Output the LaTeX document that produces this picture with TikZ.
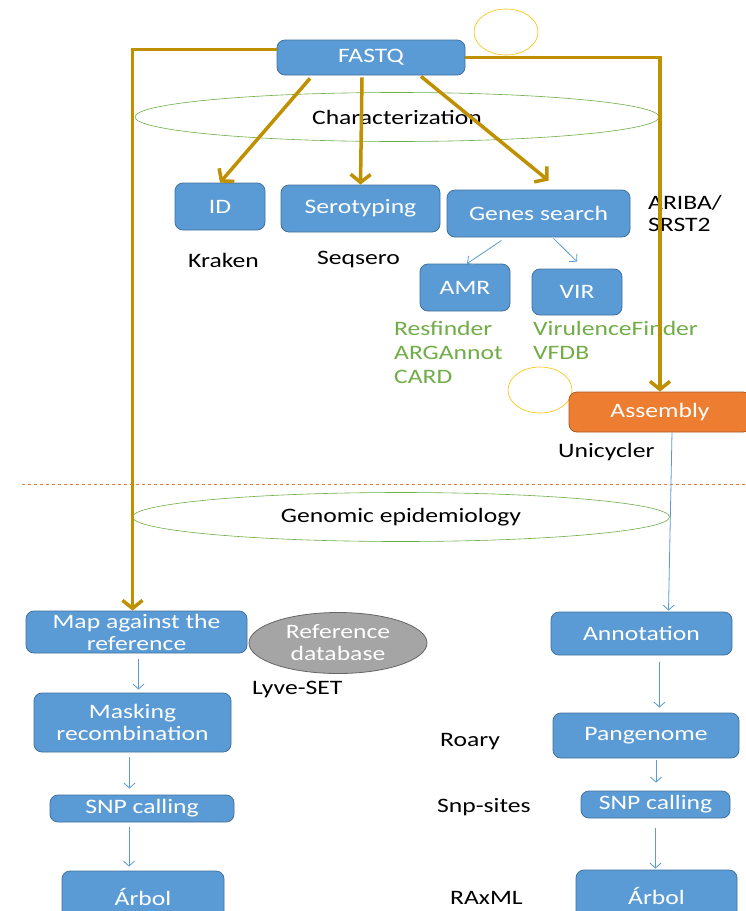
\documentclass[tikz,border=0pt]{standalone}
\usepackage{fontspec}
\setmainfont[FakeStretch=1.25]{Carlito}
\usepackage{tikz}
\usetikzlibrary{shapes.geometric,arrows.meta}
\definecolor{boxblue}{HTML}{5B9BD5}
\definecolor{boxedge}{HTML}{41719C}
\definecolor{gold}{HTML}{BF9000}
\definecolor{asmorange}{HTML}{ED7D31}
\definecolor{asmedge}{HTML}{AE5A21}
\definecolor{toolgreen}{HTML}{70AD47}
\definecolor{refgray}{HTML}{A5A5A5}
\definecolor{circyellow}{HTML}{FFC000}

\begin{document}
\begin{tikzpicture}[x=1pt,y=-1pt,font=\fontsize{20.5}{22}\selectfont]
      \tikzset{box/.style={rectangle,draw=boxedge,fill=boxblue,text=white,rounded corners=8pt,inner sep=0pt,align=center,line width=0.8pt}}
      \tikzset{asm/.style={box,draw=asmedge,fill=asmorange}}
      \tikzset{refdb/.style={ellipse,draw=gray!80!black,fill=refgray,text=white,inner sep=0pt,align=center,line width=0.8pt}}
      \tikzset{phase/.style={ellipse,draw=toolgreen,inner sep=0pt,line width=0.6pt}}
      \tikzset{ring/.style={ellipse,draw=circyellow,inner sep=0pt,line width=0.6pt}}
      \tikzset{tool/.style={anchor=west,inner sep=0pt,align=left}}
      \tikzset{gtool/.style={tool,text=toolgreen,font=\fontsize{20.5}{24}\selectfont}}
      \tikzset{main/.style={draw=gold,line width=3.5pt,-{Straight Barb[length=8pt,width=20pt]}}}
      \tikzset{flow/.style={draw=boxblue,line width=0.8pt,-{Straight Barb[length=5pt,width=11pt]}}}
      \def\wbig{221pt}

      \clip (0,0) rectangle (746,911);
      \fill[white] (0,0) rectangle (746,911);

      \node[phase,minimum width=524pt,minimum height=49pt] (charact) at (397,117) {Characterization};
      \node[phase,minimum width=537pt,minimum height=49pt] (genepi) at (401,517) {Genomic epidemiology};
      \node[ring,minimum width=64pt,minimum height=46pt] (ring1) at (506,32) {};
      \node[ring,minimum width=64pt,minimum height=46pt] (ring2) at (540,390) {};
      \draw[asmorange,dashed,line width=0.8pt] (22,484) coordinate (sepl) -- (746,484) coordinate (sepr);

      \node[box,minimum width=188pt,minimum height=35pt] (fastq) at (371,57.5) {FASTQ};
      \node[box,minimum width=90pt,minimum height=47pt] (id) at (220,206.5) {ID};
      \node[box,minimum width=159pt,minimum height=47pt] (sero) at (360.5,208.5) {Serotyping};
      \node[box,minimum width=183pt,minimum height=47pt] (genes) at (538.5,213.5) {Genes search};
      \node[box,minimum width=90pt,minimum height=47pt] (amr) at (465,287.5) {AMR};
      \node[box,minimum width=90pt,minimum height=46pt] (vir) at (577,292) {VIR};
      \node[asm,minimum width=182pt,minimum height=40pt] (assembly) at (660,412) {Assembly};

      \node[box,minimum width=\wbig,minimum height=42pt] (map) at (136.5,632) {Map against the\\reference};
      \node[refdb,minimum width=178pt,minimum height=61pt] (refdb) at (338,643) {Reference\\database};
      \node[box,minimum width=197pt,minimum height=59pt] (mask) at (132.5,722.5) {Masking\\recombination};
      \node[box,minimum width=184pt,minimum height=27pt] (snpl) at (142,808.5) {SNP calling};
      \node[box,minimum width=162pt,minimum height=52pt] (arboll) at (143,897) {Árbol};

      \node[box,minimum width=181pt,minimum height=43pt] (annot) at (641.5,633.5) {Annotation};
      \node[box,minimum width=186pt,minimum height=45pt] (pan) at (646,735.5) {Pangenome};
      \node[box,minimum width=149pt,minimum height=27pt] (snpr) at (655.5,804.5) {SNP calling};
      \node[box,minimum width=161pt,minimum height=52pt] (arbolr) at (656.5,896) {Árbol};

      \node[tool] (kraken) at (188,260) {Kraken};
      \node[tool] (seqsero) at (317,259) {Seqsero};
      \node[tool] (ariba) at (648,213) {ARIBA/\\SRST2};
      \node[gtool] (amrdb) at (394,352) {Resfinder\\ARGAnnot\\CARD};
      \node[gtool] (virdb) at (533,340) {VirulenceFinder\\VFDB};
      \node[tool] (unicycler) at (558,452) {Unicycler};
      \node[tool] (lyve) at (252,689) {Lyve-SET};
      \node[tool] (roary) at (440,742) {Roary};
      \node[tool] (snpsites) at (437,807) {Snp-sites};
      \node[tool] (raxml) at (450,898) {RAxML};

      \draw[main] ([yshift=8pt]fastq.west) -| ([xshift=-4pt]map.north);
      \draw[main] (fastq.east) -| (assembly.north);
      \draw[main] ([shift={(-61pt,-3pt)}]fastq.south) -- (id.north);
      \draw[main] ([shift={(-9pt,-2pt)}]fastq.south) -- (sero.north);
      \draw[main] ([shift={(50pt,-1pt)}]fastq.south) -- ([shift={(10pt,9pt)}]genes.north);

      \draw[flow] ([shift={(-37pt,-3pt)}]genes.south) -- ([xshift=2pt]amr.north);
      \draw[flow] ([shift={(15pt,-1pt)}]genes.south) -- ([yshift=7pt]vir.north);
      \draw[flow] ([xshift=12pt]assembly.south) -- ([shift={(27pt,1pt)}]annot.north);
      \draw[flow,shorten <=6pt,shorten >=3pt] ([xshift=2pt]map.south) -- ([xshift=2pt]map.south |- mask.north);
      \draw[flow,shorten <=5pt,shorten >=6pt] ([xshift=-3pt]mask.south) -- ([xshift=-3pt]mask.south |- snpl.north);
      \draw[flow,shorten <=5pt,shorten >=4pt] ([xshift=-13pt]snpl.south) -- ([xshift=-13pt]snpl.south |- arboll.north);
      \draw[flow,shorten <=7pt,shorten >=5pt] ([xshift=18pt]annot.south) -- ([xshift=18pt]annot.south |- pan.north);
      \draw[flow,shorten <=2pt,shorten >=8pt] ([xshift=10pt]pan.south) -- ([xshift=10pt]pan.south |- snpr.north);
      \draw[flow,shorten <=10pt,shorten >=1pt] (snpr.south) -- (snpr.south |- arbolr.north);
\end{tikzpicture}
\end{document}
